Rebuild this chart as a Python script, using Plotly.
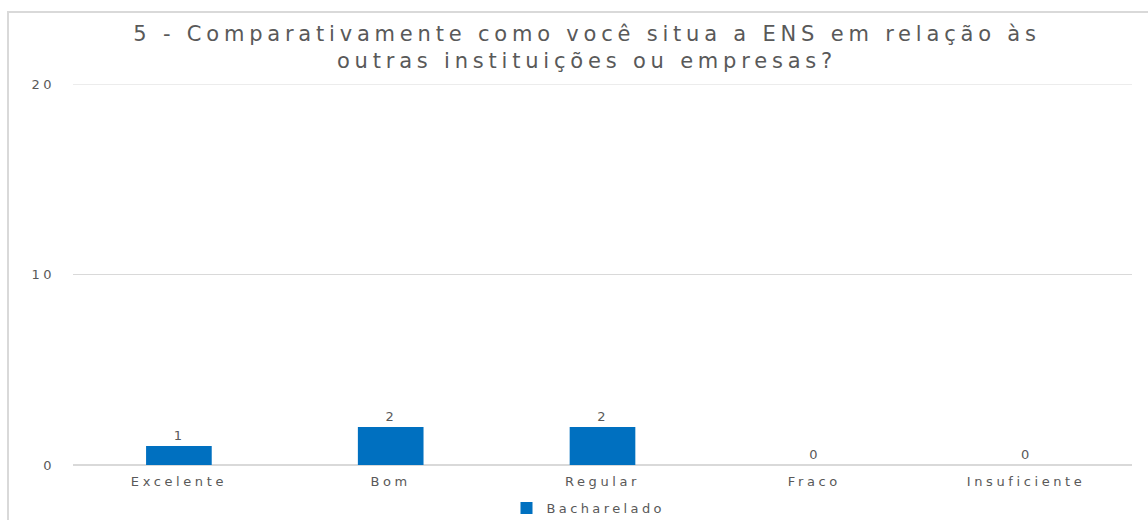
import plotly.graph_objects as go

categories = ["Excelente", "Bom", "Regular", "Fraco", "Insuficiente"]
values = [1, 2, 2, 0, 0]
series_name = "Bacharelado"
title_lines = ["5 - Comparativamente como você situa a ENS em relação às",
               "outras instituições ou empresas?"]
y_ticks = [0, 10, 20]

W, H = 1148, 520
ml, mr, mt, mb = 73, 16, 84, 55
pw = W - ml - mr
ph = H - mt - mb

FONT = "DejaVu Sans"
GREY = "#595959"
GRID = "#D9D9D9"


def spaced(s, px):
    return f'<span style="letter-spacing:{px}px">{s}</span>'


fig = go.Figure()
fig.add_trace(go.Bar(
    x=categories, y=values, name=spaced(series_name, 3.4),
    marker=dict(color="#0070C0", line=dict(width=0)),
    width=0.31,
    text=[spaced(str(v), 2) for v in values], textposition="outside",
    textfont=dict(family=FONT, size=13, color=GREY),
    cliponaxis=False,
))

fig.update_layout(
    width=W, height=H,
    margin=dict(l=ml, r=mr, t=mt, b=mb, autoexpand=False),
    paper_bgcolor="white", plot_bgcolor="white",
    title=dict(text="<br>".join(spaced(t, 4.8) for t in title_lines),
               x=587 / W, xref="container", xanchor="center",
               y=1 - 41 / H, yanchor="middle",
               font=dict(family=FONT, size=21, color=GREY)),
    xaxis=dict(showgrid=False, showline=False, ticks="", automargin=False,
               tickvals=categories,
               ticktext=[spaced(c, 3.6) for c in categories],
               tickfont=dict(family=FONT, size=13, color=GREY),
               ticklabelstandoff=7),
    yaxis=dict(range=[0, 20], tickvals=y_ticks,
               ticktext=[spaced(str(t), 3.5) for t in y_ticks],
               showgrid=True, automargin=False,
               gridcolor=GRID, gridwidth=1, zeroline=True,
               zerolinecolor=GRID, zerolinewidth=2,
               tickfont=dict(family=FONT, size=13, color=GREY),
               ticks="", ticklabelstandoff=17),
    showlegend=True,
    legend=dict(orientation="h", x=0.5 + 14.5 / W, xanchor="center", xref="container",
                y=(H - 508) / H, yref="container", yanchor="middle",
                font=dict(family=FONT, size=13, color=GREY),
                itemwidth=30, tracegroupgap=0),
    bargap=0.69,
)

# top gridline (the edge gridline is not drawn by plotly)
fig.add_shape(type="line", xref="paper", yref="y", x0=0, x1=1,
              y0=y_ticks[-1], y1=y_ticks[-1],
              line=dict(color=GRID, width=1), layer="below")

# chart border
fig.add_shape(type="rect", xref="paper", yref="paper",
              x0=(8 - ml) / pw, x1=(W + 5 - ml) / pw,
              y0=-(H + 5 - (H - mb)) / ph, y1=(H - mb - 12) / ph,
              line=dict(color=GRID, width=2), fillcolor="rgba(0,0,0,0)",
              layer="below")

fig.write_html("out.html", config={"displayModeBar": False},
               post_script="document.body.style.margin='0';")
